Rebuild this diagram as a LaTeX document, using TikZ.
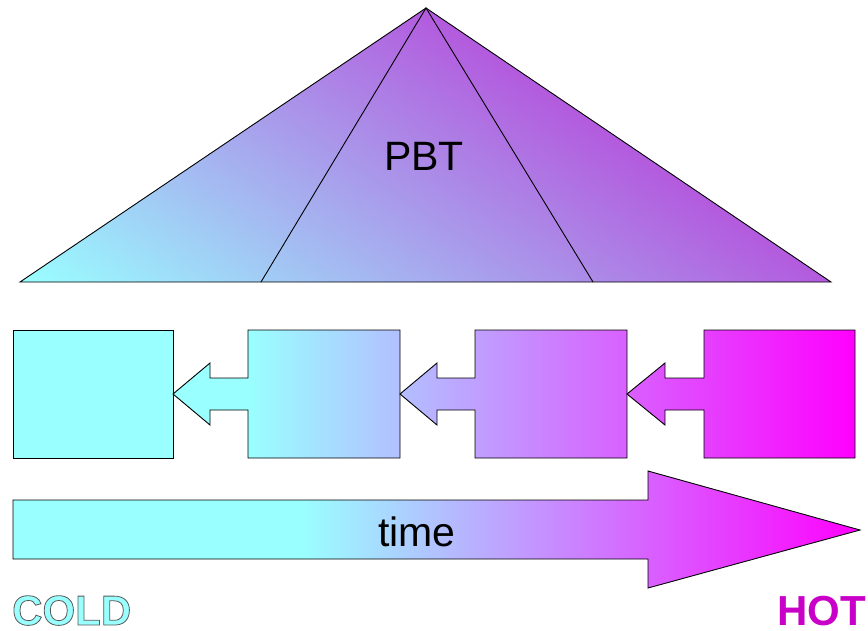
\documentclass[tikz,border=0pt]{standalone}
\usepackage{fontspec}
\setmainfont{Liberation Sans}
\definecolor{cc}{HTML}{99FFFF}
\definecolor{mm}{HTML}{FF00FF}
\definecolor{tp}{HTML}{B35BDE}
\definecolor{hotc}{HTML}{C800C8}
\pgfdeclarehorizontalshading{boxshade}{100bp}{color(0bp)=(cc); color(39bp)=(cc); color(75bp)=(mm); color(100bp)=(mm)}
\pgfdeclarehorizontalshading{timeshade}{100bp}{color(0bp)=(cc); color(42bp)=(cc); color(75bp)=(mm); color(100bp)=(mm)}
\pgfdeclareverticalshading{trishade}{100bp}{color(0bp)=(cc); color(43.75bp)=(cc); color(56.25bp)=(tp); color(100bp)=(tp)}
\begin{document}
\begin{tikzpicture}[x=1pt,y=-1pt,
  outl/.style={draw=black,line width=0.9pt,line join=miter},
  rowfill/.style={path picture={\shade[shading=boxshade] (13,330) rectangle (855,458);}},
  timefill/.style={path picture={\shade[shading=timeshade] (13,471) rectangle (860,588);}},
  trifill/.style={path picture={\shade[shading=trishade, shading angle=-34] (-761,-814) rectangle (1055,1002);}},
  lbl/.style={font=\fontsize{41}{41}\selectfont, inner sep=0pt},
  big/.style={font=\fontsize{42}{42}\selectfont\bfseries, inner sep=0pt}]
\useasboundingbox (0,0) rectangle (868,630);
% pyramid
\draw[outl,trifill] (20,282) -- (426,8) -- (831,282) -- cycle;
\draw[outl] (261,282) -- (426,8) -- (593,282);
\node[lbl, anchor=base] (pbt) at (424,170) {PBT};
% boxes
\draw[outl, fill=cc] (13,330) rectangle (173,458);
\foreach \t/\h/\l/\r in {173/210/248/400, 400/437/475/627, 627/665/704/855}
  \draw[outl,rowfill] (\t,394) -- (\h,363) -- (\h,378) -- (\l,378) -- (\l,330) -- (\r,330) -- (\r,458) -- (\l,458) -- (\l,410) -- (\h,410) -- (\h,425) -- cycle;
% time arrow
\draw[outl,timefill] (13,500) -- (648,500) -- (648,471) -- (860,530) -- (648,588) -- (648,559) -- (13,559) -- cycle;
\node[lbl, anchor=base] (time) at (417,546) {time};
% labels
\node[big, anchor=base west] (cold) at (12,625) {\color{cc}\special{pdf:literal direct 2 Tr 0.8 w 0.35 0.35 0.35 RG}COLD\special{pdf:literal direct 0 Tr}};
\node[big, anchor=base east, text=hotc] (hot) at (866,625) {HOT};
\end{tikzpicture}
\end{document}
